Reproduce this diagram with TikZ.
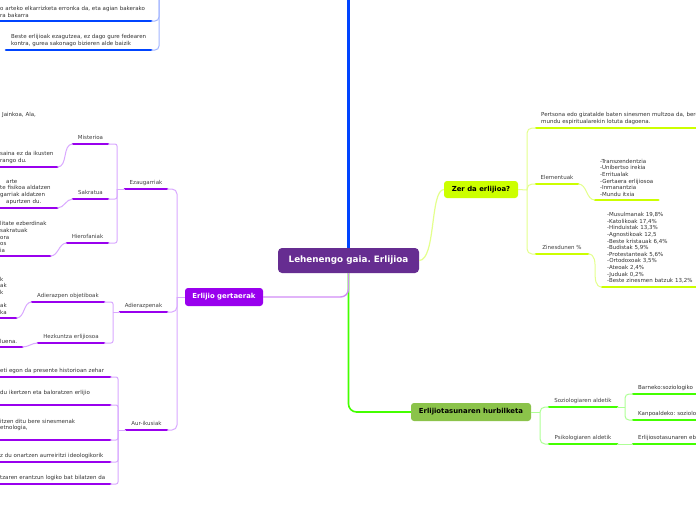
\documentclass[tikz,border=0pt]{standalone}
\usepackage{fontspec}
\setsansfont{DejaVu Sans}
\frenchspacing

\definecolor{centre}{HTML}{662D91}
\definecolor{purp}{HTML}{9900EE}
\definecolor{purplight}{HTML}{D9A8FF}
\definecolor{blu}{HTML}{0044FF}
\definecolor{blulight}{HTML}{A3B6FF}
\definecolor{zerlime}{HTML}{CCFF00}
\definecolor{zerlimelight}{HTML}{E4FF8C}
\definecolor{grn}{HTML}{44FF00}
\definecolor{grnlight}{HTML}{AEFF96}
\definecolor{grnnode}{HTML}{8BC34A}

\begin{document}
\begin{tikzpicture}[x=1pt,y=-1pt,font=\sffamily\fontsize{5.5}{6.6}\selectfont,text=black!80]
    \tikzstyle{hub} = [rectangle, rounded corners=3pt, inner sep=0pt, text=black, font=\sffamily\bfseries\fontsize{6.9}{8}\selectfont]
    \tikzstyle{topic} = [anchor=south, inner xsep=0pt, inner ysep=3.5pt, text height=4pt, text depth=1pt, text=black!75]
    \tikzstyle{leaf} = [anchor=south west, align=left, inner xsep=0pt, inner ysep=3.5pt]
    \tikzstyle{puline} = [draw=purp, line width=2.6pt, line cap=round]
    \tikzstyle{buline} = [draw=blu, line width=2.6pt, line cap=round]
    \tikzstyle{luline} = [draw=zerlime, line width=2.6pt, line cap=round]
    \tikzstyle{guline} = [draw=grn, line width=2.6pt, line cap=round]
    \tikzstyle{pconn} = [draw=purplight, line width=1pt]
    \tikzstyle{bconn} = [draw=blulight, line width=1pt]
    \tikzstyle{lconn} = [draw=zerlimelight, line width=1pt]
    \tikzstyle{gconn} = [draw=grnlight, line width=1pt]

    \fill[white] (0,0) rectangle (696,520);
    \useasboundingbox (0,0) rectangle (696,520);

    %%% MAIN NODES
    \node[hub, fill=centre, text=white, minimum width=141pt, minimum height=25pt, rounded corners=4pt, font=\sffamily\bfseries\fontsize{8.8}{10}\selectfont] (cen) at (348.5,260.5) {Lehenengo gaia. Erlijioa};
    \node[hub, fill=zerlime, minimum width=74pt, minimum height=17pt] (zer) at (481,189.5) {Zer da erlijioa?};
    \node[hub, fill=grnnode, minimum width=120pt, minimum height=18pt] (erl) at (471,412) {Erlijiotasunaren hurbilketa};
    \node[hub, fill=purp, text=white, minimum width=78pt, minimum height=18pt] (gert) at (224,297) {Erlijio gertaerak};

    \coordinate (btop) at (348.5,-2);
    \draw[blu, line width=2.2pt] (btop) -- (cen);
    \draw[grn, line width=1.6pt, rounded corners=8pt] (cen.south) |- (erl.west);
    \draw[purp!45, line width=1.4pt, rounded corners=8pt] (cen.south) |- (gert.east);
    \draw[zerlimelight, line width=1.2pt] (cen.east) .. controls (436,260) and (430,190) .. (zer.west);

    %%% TOP (BLUE)
    \node[leaf, text width=151pt] (b1) at (0,21) {o arteko elkarrizketa erronka da, eta agian bakerako\\ra bakarra};
    \node[leaf, minimum width=145pt] (b2) at (6,50) {Beste erlijioak ezagutzea, ez dago gure fedearen\\kontra, gurea sakonago bizieren alde baizik};
    \foreach \n in {b1,b2}
        \draw[buline] (\n.south west) -- (\n.south east);
    \coordinate (bj) at (159,-10);
    \foreach \n in {b1,b2}
        \draw[bconn, rounded corners=4pt] (bj) |- (\n.south east);

    %%% LEFT (PURPLE)
    \node[topic, minimum width=42pt] (eza) at (146,189) {Ezaugarriak};
    \node[topic, minimum width=47pt] (adi) at (143.5,312) {Adierazpenak};
    \node[topic, minimum width=41pt] (aur) at (146.5,430) {Aur-ikusiak};
    \node[topic, minimum width=35pt] (mis) at (90.5,144) {Misterioa};
    \node[topic, minimum width=35pt] (sak) at (90.5,199) {Sakratua};
    \node[topic, minimum width=41pt] (hie) at (87.5,243) {Hierofaniak};
    \node[topic, minimum width=72pt] (obj) at (68,302) {Adierazpen objetiboak};
    \node[topic, minimum width=66pt] (hez) at (71,343) {Hezkuntza erlijiosoa};

    \node[leaf, text width=57pt] (lmis) at (0,167) {\hspace*{2pt}Jainkoa, Ala,\\[32.4pt]saina ez da ikusten\\rango du.};
    \node[leaf, text width=57pt] (lsak) at (0,208) {\hspace*{6pt}arte\\te fisikoa aldatzen\\garriak aldatzen\\\hspace*{6pt}apurtzen du.};
    \node[leaf, text width=50pt] (lhie) at (0,256) {litate ezberdinak\\sakratuak\\ora\\os\\ia};
    \node[leaf, text width=16pt] (lobj) at (0,318) {k\\ak\\k\\[6.6pt]ak\\ka};
    \node[leaf, text width=22pt] (lhez) at (0,347) {luena.};
    \node[leaf, text width=110pt] (a1) at (0,377) {eti egon da presente historioan zehar};
    \node[leaf, text width=110pt] (a2) at (0,405) {du ikertzen eta baloratzen erlijio\\~};
    \node[leaf, text width=110pt] (a3) at (0,440) {itzen ditu bere sinesmenak\\etnologia,\\~};
    \node[leaf, text width=110pt] (a4) at (0,462) {z du onartzen aurreiritzi ideologikorik};
    \node[leaf, text width=110pt] (a5) at (0,484) {tzaren erantzun logiko bat bilatzen da};

    \foreach \n in {eza,adi,aur,mis,sak,hie,obj,hez,lmis,lsak,lhie,lobj,lhez,a1,a2,a3,a4,a5}
        \draw[puline] (\n.south west) -- (\n.south east);

    \coordinate (gj) at (177,297);
    \draw[pconn] (gert.west) -- (gj);
    \foreach \n in {eza,adi,aur}
        \draw[pconn, rounded corners=5pt] (gj) |- (\n.south east);
    \coordinate (ej) at (117,189);
    \draw[pconn] (eza.south west) -- (ej);
    \foreach \n in {mis,sak,hie}
        \draw[pconn, rounded corners=2pt] (ej) |- (\n.south east);
    \coordinate (aj) at (113,312);
    \draw[pconn] (adi.south west) -- (aj);
    \foreach \n in {obj,hez}
        \draw[pconn, rounded corners=2pt] (aj) |- (\n.south east);
    \coordinate (uj) at (118,430);
    \draw[pconn] (aur.south west) -- (uj);
    \foreach \n in {a1,a2,a3,a4,a5}
        \draw[pconn, rounded corners=2pt] (uj) |- (\n.south east);
    \foreach \l / \t in {lmis/mis,lsak/sak,lhie/hie,lobj/obj,lhez/hez}
        \draw[pconn] (\l.south east) to[out=0,in=180] (\t.south west);

    %%% RIGHT (LIME)
    \node[leaf, text width=170pt, inner xsep=5pt] (r1) at (536,128) {Pertsona edo gizatalde baten sinesmen multzoa da, bere\\mundu espiritualarekin lotuta dagoena.};
    \node[topic, minimum width=42pt] (ele) at (557,184) {Elementuak};
    \node[leaf, minimum width=63pt] (lele) at (595,200) {-Transzendentzia\\-Unibertso irekia\\-Erritualak\\-Gertaera erlijiosoa\\-Inmanantzia\\-Mundu itxia};
    \node[topic, minimum width=52pt] (zin) at (562,254) {Zinesdunen \%};
    \node[leaf, text width=100pt, inner xsep=5pt] (lzin) at (602,287) {-Musulmanak 19,8\%\\-Katolikoak 17,4\%\\-Hinduistak 13,3\%\\-Agnostikoak 12,5\\-Beste kristauak 6,4\%\\-Budistak 5,9\%\\-Protestanteak 5,6\%\\-Ortodoxoak 3,5\%\\-Ateoak 2,4\%\\-Juduak 0,2\%\\-Beste zinesmen batzuk 13,2\%};

    \foreach \n in {r1,ele,lele,zin,lzin}
        \draw[luline] (\n.south west) -- (\n.south east);

    \coordinate (zj) at (527,190);
    \draw[lconn] (zer.east) -- (zj);
    \foreach \n in {r1,ele,zin}
        \draw[lconn, rounded corners=5pt] (zj) |- (\n.south west);
    \draw[lconn] (ele.south east) to[out=0,in=180] (lele.south west);
    \draw[lconn] (zin.south east) to[out=0,in=180] (lzin.south west);

    %%% BOTTOM RIGHT (GREEN)
    \node[topic, minimum width=68pt] (soz) at (583,407) {Soziologiaren aldetik};
    \node[topic, minimum width=68pt] (psi) at (583,444) {Psikologiaren aldetik};
    \node[leaf, text width=80pt, inner xsep=5pt] (bar) at (633,394) {Barneko:soziologiko};
    \node[leaf, text width=80pt, inner xsep=5pt] (kan) at (633,420) {Kanpoaldeko: soziolo};
    \node[leaf, text width=80pt, inner xsep=5pt] (eri) at (633,444) {Erlijiosotasunaren eb};

    \foreach \n in {soz,psi,bar,kan,eri}
        \draw[guline] (\n.south west) -- (\n.south east);

    \coordinate (hj) at (540,412);
    \draw[gconn] (erl.east) -- (hj);
    \foreach \n in {soz,psi}
        \draw[gconn, rounded corners=5pt] (hj) |- (\n.south west);
    \coordinate (sj) at (625,407);
    \draw[gconn] (soz.south east) -- (sj);
    \foreach \n in {bar,kan}
        \draw[gconn, rounded corners=4pt] (sj) |- (\n.south west);
    \draw[gconn] (psi.south east) -- (eri.south west);

\end{tikzpicture}
\end{document}
